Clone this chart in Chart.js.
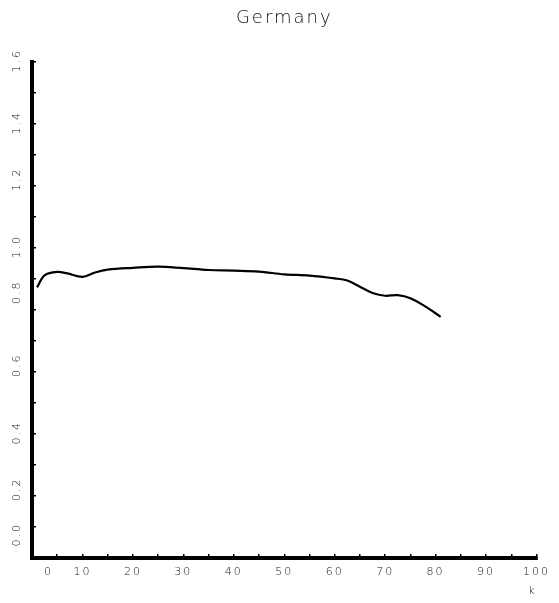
<!DOCTYPE html>
<html lang="en">
<head>
  <meta charset="UTF-8" />
  <title>Germany</title>
  <script src="https://cdn.jsdelivr.net/npm/chart.js@4/dist/chart.umd.min.js"></script>
  <style>
    body { margin: 0; background: #fff; }
  </style>
</head>
<body>
<canvas id="chart" width="559" height="603"></canvas>
<script>
  // k and the ratio
  const kValues = [1, 2.5, 5, 7, 10, 12.5, 15, 20, 25, 30, 35, 40, 45, 50, 55, 60, 62.5, 65, 67.5, 70, 72.5, 75, 78, 81];
  const ratioValues = [0.873, 0.912, 0.923, 0.918, 0.907, 0.921, 0.930, 0.936, 0.940, 0.935, 0.929, 0.927, 0.924, 0.915, 0.911, 0.902, 0.895, 0.875, 0.855, 0.846, 0.848, 0.838, 0.811, 0.778];
  const xTicks = [0, 10, 20, 30, 40, 50, 60, 70, 80, 90, 100];
  const yTicks = ['0.0', '0.2', '0.4', '0.6', '0.8', '1.0', '1.2', '1.4', '1.6'];

  const ink = "#111";
  const tickFont = { family: "'DejaVu Sans', sans-serif", size: 11, weight: 300 };

  // the plotter set some axis labels a little off their tick; leading spaces nudge them
  const yNudge = { "0.0": 4, "0.2": 1, "0.6": 1, "0.8": 3, "1.2": 1 };

  // wider letter spacing, like a plotter font
  const spacing = {
    id: "spacing",
    beforeDraw: (chart) => { chart.ctx.letterSpacing = "2px"; }
  };

  new Chart(document.getElementById("chart"), {
    type: "line",
    data: {
      datasets: [{
        data: kValues.map((k, i) => ({ x: k, y: ratioValues[i] })),
        borderColor: "#000",
        borderWidth: 2.2,
        pointRadius: 0,
        tension: 0.35,
        fill: false
      }]
    },
    plugins: [spacing],
    options: {
      responsive: false,
      animation: false,
      layout: { padding: { left: 12, right: 21, top: 0, bottom: 0 } },
      plugins: {
        legend: { display: false },
        tooltip: { enabled: false },
        title: {
          display: true,
          fullSize: false,
          text: "Germany",
          color: ink,
          font: { family: "'DejaVu Sans', sans-serif", size: 18, weight: 300 },
          padding: { top: 8, bottom: 32.4 }
        }
      },
      scales: {
        x: {
          type: "linear",
          min: 0,
          max: 100,
          afterFit: (scale) => { scale.height = 45; },
          border: { display: true, color: "#000", width: 4 },
          grid: { drawOnChartArea: false, color: "#000", lineWidth: 1.5, tickLength: -4 },
          ticks: {
            stepSize: 5,
            autoSkip: false,
            maxRotation: 0,
            padding: 12,
            color: ink,
            font: tickFont,
            callback: (v) => {
              if (!xTicks.includes(v)) return "";
              return v === 0 ? "      0" : String(v);
            }
          },
          title: {
            display: true,
            text: "k",
            align: "end",
            color: ink,
            font: tickFont,
            padding: { top: 0, bottom: 5 }
          }
        },
        y: {
          type: "linear",
          min: 0,
          max: 1.6,
          afterFit: (scale) => { scale.width = 20; },
          border: { display: true, color: "#000", width: 4 },
          grid: { drawOnChartArea: false, color: "#000", lineWidth: 1.5, tickLength: -4 },
          ticks: {
            stepSize: 0.1,
            autoSkip: false,
            minRotation: 90,
            maxRotation: 90,
            crossAlign: "far",
            align: "start",
            labelOffset: 10.5,
            color: ink,
            font: tickFont,
            callback: (v) => {
              const label = v.toFixed(1);
              if (!yTicks.includes(label)) return "";
              return " ".repeat(yNudge[label] || 0) + label;
            }
          }
        }
      }
    }
  });
</script>
</body>
</html>
